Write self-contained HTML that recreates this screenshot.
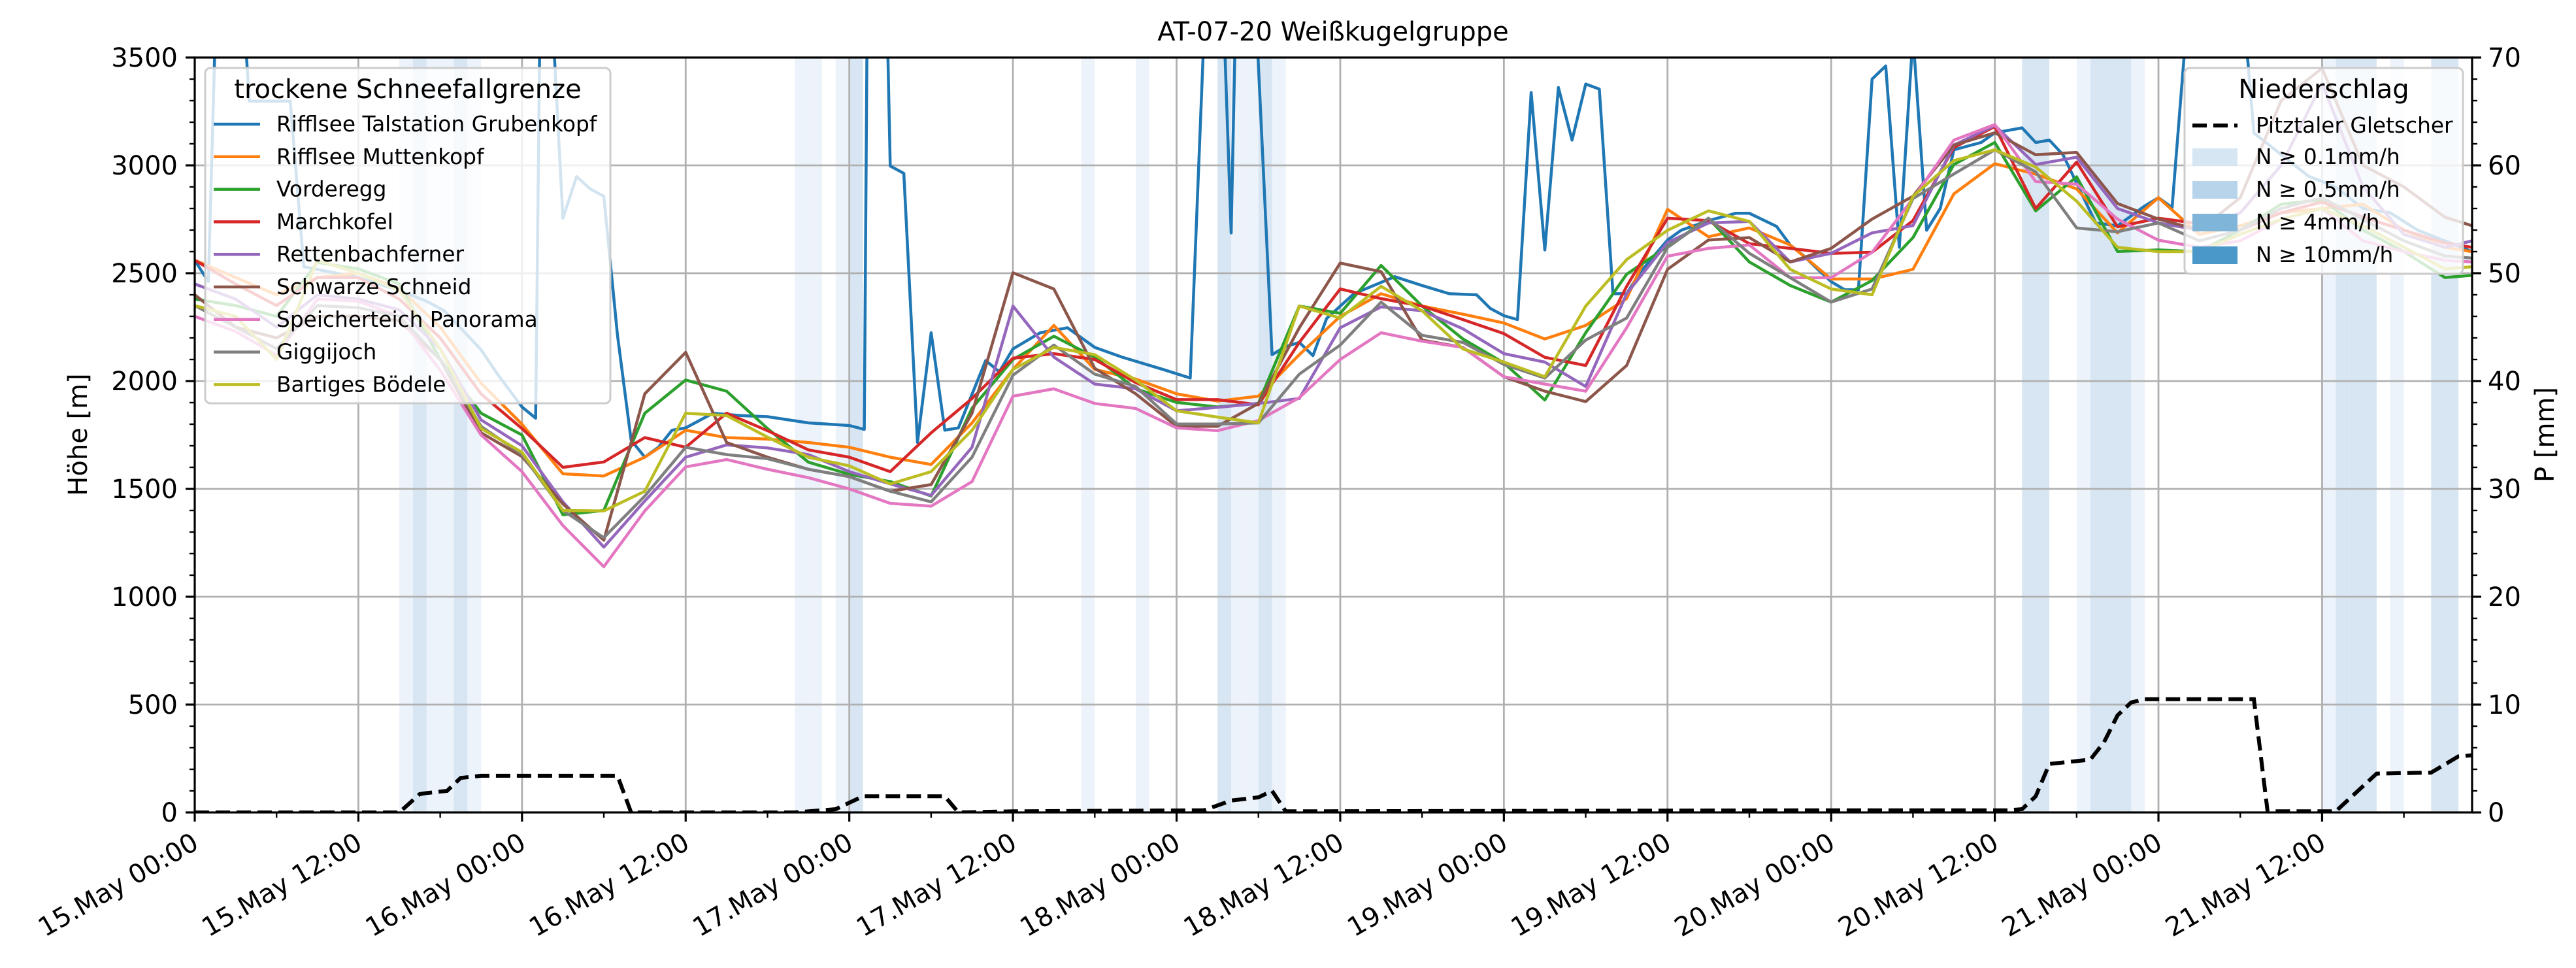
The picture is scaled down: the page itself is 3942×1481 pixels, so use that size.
<!DOCTYPE html>
<html><head><meta charset="utf-8"><title>AT-07-20 Weißkugelgruppe</title>
<style>
html,body{margin:0;padding:0;background:#fff;}
svg{display:block;font-family:"DejaVu Sans","Liberation Sans",sans-serif;}
</style></head>
<body>
<svg id="chart" xmlns="http://www.w3.org/2000/svg" width="3942" height="1481" viewBox="0 0 3942 1481">
<defs><clipPath id="plotclip"><rect x="298" y="88" width="3485" height="1155"/></clipPath></defs>
<rect x="0" y="0" width="3942" height="1481" fill="#fff"/>
<g id="bands" clip-path="url(#plotclip)"></g>
<g id="grid"></g>
<g id="series" clip-path="url(#plotclip)"></g>
<g id="precip" clip-path="url(#plotclip)"></g>
<g id="axes"></g>
<text x="2040" y="62" font-size="40" text-anchor="middle">AT-07-20 Weißkugelgruppe</text>
<text x="0" y="0" font-size="40" text-anchor="middle" transform="translate(133,665) rotate(-90)">Höhe [m]</text>
<text x="0" y="0" font-size="40" text-anchor="middle" transform="translate(3908,665) rotate(-90)">P [mm]</text>
<g id="legend1"></g>
<g id="legend2"></g>
</svg>
<script>
const HOURS = [0,3,6,9,12,15,18,21,24,27,30,33,36,39,42,45,48,51,54,57,60,63,66,69,72,75,78,81,84,87,90,93,96,99,102,105,108,111,114,117,120,123,126,129,132,135,138,141,144,147,150,153,156,159,162,165,167];
const ORANGE = [2560,2480,2400,2480,2500,2430,2250,1990,1800,1570,1560,1647,1772,1738,1731,1715,1693,1647,1613,1806,2054,2258,2054,2009,1941,1907,1930,2122,2300,2405,2348,2310,2269,2195,2258,2382,2796,2669,2710,2631,2473,2473,2518,2868,3008,2959,2891,2687,2850,2680,2720,2780,2800,2820,2700,2620,2600];
const RED = [2560,2450,2350,2480,2480,2380,2200,1940,1780,1600,1625,1738,1693,1851,1770,1681,1647,1580,1760,1919,2106,2127,2100,1993,1914,1914,1890,2179,2427,2382,2348,2285,2220,2110,2072,2439,2755,2744,2637,2615,2592,2597,2744,3083,3180,2800,3015,2715,2755,2730,2700,2780,2830,2760,2700,2640,2620];
const GREEN = [2380,2350,2300,2550,2520,2450,2100,1851,1750,1380,1400,1851,2005,1953,1780,1624,1568,1534,1467,1874,2100,2208,2111,1964,1901,1880,1896,2348,2314,2536,2348,2195,2084,1912,2224,2495,2624,2755,2552,2443,2366,2466,2665,3004,3106,2789,2947,2601,2608,2600,2700,2820,2840,2700,2600,2480,2490];
const PURPLE = [2450,2380,2250,2400,2380,2330,2150,1820,1700,1440,1230,1444,1647,1704,1690,1659,1580,1523,1470,1693,2348,2111,1986,1964,1862,1878,1896,1919,2247,2344,2326,2242,2127,2088,1975,2405,2642,2733,2740,2552,2592,2687,2721,3094,3185,3004,3038,2800,2733,2700,2780,3000,3380,2900,2680,2620,2650];
const BROWN = [2400,2250,2200,2300,2300,2280,2100,1760,1650,1430,1262,1941,2133,1715,1647,1591,1557,1489,1520,1851,2502,2427,2059,1941,1790,1790,1896,2247,2547,2507,2190,2156,2020,1953,1905,2072,2518,2654,2665,2552,2615,2751,2857,3094,3151,3049,3060,2823,2751,2700,2850,3300,3450,3000,2900,2760,2720];
const PINK = [2300,2230,2120,2380,2370,2300,2050,1750,1580,1330,1139,1398,1602,1636,1591,1552,1500,1433,1420,1534,1930,1964,1896,1873,1783,1770,1817,1923,2100,2224,2185,2156,2020,1986,1953,2247,2579,2615,2631,2479,2479,2597,2846,3117,3189,2925,2913,2751,2653,2620,2650,2750,2800,2650,2600,2560,2552];
const GRAY = [2350,2250,2150,2350,2340,2300,2100,1790,1660,1400,1274,1467,1693,1659,1640,1591,1557,1489,1440,1647,2027,2167,2032,1975,1801,1801,1806,2032,2167,2366,2212,2179,2077,2014,2190,2292,2619,2755,2592,2479,2366,2427,2846,2960,3072,2970,2710,2692,2733,2650,2700,2800,2850,2750,2650,2580,2570];
const OLIVE = [2350,2300,2100,2560,2500,2420,2150,1780,1670,1400,1398,1489,1851,1840,1740,1647,1607,1523,1580,1772,2054,2156,2122,2005,1862,1833,1806,2348,2292,2439,2326,2149,2088,2020,2348,2563,2699,2789,2740,2518,2427,2400,2857,3022,3072,2992,2834,2620,2600,2600,2680,2750,2800,2720,2620,2520,2530];
const BLUE_HOURS = [0,1,1.5,3.7,4,7,8,12,15,17,18.3,21,22.2,24,25,25.3,26.3,27,28,29,30,31,32,33,34,35,36,38,40,42,45,48,49.1,49.3,50.8,51,52,53,54,55,56,58,59,60,62,64,66,68,71,73,74,75.5,76,76.3,77.9,79,80,81,82,83,85,88,90,92,94,95,96,97,98,99,100,101,102,103,104,105,106,108,109,111,113,114,116,117,118,119,120,121,122,123,124,125,126,127,128,129,131,132,134,135,136,137,139.4,141,143,144,145,146,150.4,151,153,155,157,159,161,163,165,167];
const BLUE = [2560,2461,3600,3600,3298,3298,2530,2480,2420,2370,2326,2145,2032,1880,1828,3600,3600,2755,2948,2891,2857,2213,1726,1647,1693,1772,1783,1851,1840,1835,1806,1794,1776,3600,3600,2997,2963,1715,2224,1772,1783,2095,2043,2149,2224,2247,2156,2111,2054,2014,3600,3600,2687,3600,3600,2122,2160,2179,2118,2290,2405,2484,2443,2405,2400,2337,2303,2285,3338,2608,3361,3117,3377,3354,2405,2405,2505,2654,2699,2744,2778,2778,2717,2631,2580,2519,2461,2423,2423,3400,3461,2620,3600,2699,2800,3072,3106,3151,3174,3106,3117,3049,2733,2720,2812,2850,2805,3600,3600,3150,3050,2950,2900,2800,2780,2700,2650,2600];
const P_HOURS = [0,15,16.5,17,18.5,19.5,21,31,32,44,47,49,55,56,60,74,76,78,79,80,81,120,133,134,135,136,139,140,141,142,143,151,152,157,160,164,166,167];
const P_VALUES = [0,0,1.7,1.8,2,3.2,3.4,3.4,0,0,0.3,1.5,1.5,0,0.1,0.2,1.1,1.4,2,0.1,0.1,0.2,0.2,0.3,1.5,4.5,4.9,6.5,9,10.2,10.5,10.5,0.1,0.1,3.6,3.7,5.2,5.3];
const BAND_LIGHT = [15,17,18,20,44,45,47,65,69,76,77,79,138,142,156,161];
const BAND_DARK = [16,19,48,75,78,134,135,139,140,141,157,158,159,164,165];
const X_TICKS = [0,12,24,36,48,60,72,84,96,108,120,132,144,156];
const X_LABELS = ["15.May 00:00","15.May 12:00","16.May 00:00","16.May 12:00","17.May 00:00","17.May 12:00","18.May 00:00","18.May 12:00","19.May 00:00","19.May 12:00","20.May 00:00","20.May 12:00","21.May 00:00","21.May 12:00"];
const Y_TICKS = [0,500,1000,1500,2000,2500,3000,3500];
const Y2_TICKS = [0,10,20,30,40,50,60,70];
const STATION_NAMES = ["Rifflsee Talstation Grubenkopf","Rifflsee Muttenkopf","Vorderegg","Marchkofel","Rettenbachferner","Schwarze Schneid","Speicherteich Panorama","Giggijoch","Bartiges Bödele"];

const NS = "http://www.w3.org/2000/svg";
const L = 298, R = 3783, T = 88, B = 1243, HMAX = 167;
function xs(h){ return L + h*(R-L)/HMAX; }
function ys(v){ return B - v*(B-T)/3500; }
function yp(p){ return B - p*(B-T)/70; }
function mk(tag, attrs, parent){ const e = document.createElementNS(NS, tag); for (const k in attrs) e.setAttribute(k, attrs[k]); parent.appendChild(e); return e; }

const gb = document.getElementById('bands');
BAND_LIGHT.forEach(h => {
  const r = mk('rect', {x: xs(h), y: T, width: xs(h+1)-xs(h), height: B-T, fill: '#edf3fa'}, gb);
  
  
});
BAND_DARK.forEach(h => {
  const r = mk('rect', {x: xs(h), y: T, width: xs(h+1)-xs(h), height: B-T, fill: '#d8e6f3'}, gb);
  
  
});

const gg = document.getElementById('grid');
Y_TICKS.forEach(v => {
  const l = mk('line', {x1: L, x2: R, y1: ys(v), y2: ys(v), stroke: '#b0b0b0', 'stroke-width': 2.8}, gg);
  
  
});
X_TICKS.forEach(h => {
  const l = mk('line', {x1: xs(h), x2: xs(h), y1: T, y2: B, stroke: '#b0b0b0', 'stroke-width': 2.8}, gg);
  
  
});

const gs = document.getElementById('series');
const SERIES = [
  [BLUE_HOURS, BLUE, '#1f77b4', 'series-rifflsee-talstation'],
  [HOURS, ORANGE, '#ff7f0e', 'series-rifflsee-muttenkopf'],
  [HOURS, GREEN, '#2ca02c', 'series-vorderegg'],
  [HOURS, RED, '#d62728', 'series-marchkofel'],
  [HOURS, PURPLE, '#9467bd', 'series-rettenbachferner'],
  [HOURS, BROWN, '#8c564b', 'series-schwarze-schneid'],
  [HOURS, PINK, '#e377c2', 'series-speicherteich-panorama'],
  [HOURS, GRAY, '#7f7f7f', 'series-giggijoch'],
  [HOURS, OLIVE, '#bcbd22', 'series-bartiges-boedele']
];
SERIES.forEach(s => {
  const pts = s[0].map((h,i) => xs(h).toFixed(1)+','+ys(s[1][i]).toFixed(1)).join(' ');
  const p = mk('polyline', {points: pts, fill: 'none', stroke: s[2], 'stroke-width': 4.5, 'stroke-linejoin': 'round'}, gs);
  
  
});

const gp = document.getElementById('precip');
const ppts = P_HOURS.map((h,i) => xs(h).toFixed(1)+','+yp(P_VALUES[i]).toFixed(1)).join(' ');
const pl = mk('polyline', {points: ppts, fill: 'none', stroke: '#000', 'stroke-width': 6, 'stroke-dasharray': '22,10'}, gp);



const ga = document.getElementById('axes');
const frame = mk('rect', {x: L, y: T, width: R-L, height: B-T, fill: 'none', stroke: '#000', 'stroke-width': 3.2}, ga);


for (let v = 0; v <= 3500; v += 100) {
  const major = v % 500 === 0;
  const t = mk('line', {x1: L, x2: L - (major ? 14 : 8), y1: ys(v), y2: ys(v), stroke: '#000', 'stroke-width': major ? 3.2 : 2.4}, ga);
  
  
}
Y_TICKS.forEach(v => {
  const t = mk('text', {x: L - 26, y: ys(v) + 14, 'font-size': 40, 'text-anchor': 'end'}, ga);
  t.textContent = String(v);
  
  
});
for (let p = 0; p <= 70; p += 2) {
  const major = p % 10 === 0;
  const t = mk('line', {x1: R, x2: R + (major ? 14 : 8), y1: yp(p), y2: yp(p), stroke: '#000', 'stroke-width': major ? 3.2 : 2.4}, ga);
  
  
}
Y2_TICKS.forEach(p => {
  const t = mk('text', {x: R + 24, y: yp(p) + 14, 'font-size': 40, 'text-anchor': 'start'}, ga);
  t.textContent = String(p);
  
  
});
for (let h = 0; h <= HMAX; h += 6) {
  const major = h % 12 === 0;
  const t = mk('line', {x1: xs(h), x2: xs(h), y1: B, y2: B + (major ? 14 : 8), stroke: '#000', 'stroke-width': major ? 3.2 : 2.4}, ga);
  
  
}
X_TICKS.forEach((h,i) => {
  const tx = xs(h) - 6, ty = 1272;
  const t = mk('text', {x: 0, y: 0, 'font-size': 40, 'text-anchor': 'end', 'dominant-baseline': 'hanging', transform: 'translate('+tx+','+ty+') rotate(-30)'}, ga);
  t.textContent = X_LABELS[i];
  
  
});

const g1 = document.getElementById('legend1');
const f1 = mk('rect', {x: 314, y: 104, width: 620, height: 513, rx: 8, fill: '#fff', 'fill-opacity': 0.8, stroke: '#cccccc', 'stroke-width': 3}, g1);


const lt1 = mk('text', {x: 624, y: 150, 'font-size': 40, 'text-anchor': 'middle'}, g1);
lt1.textContent = 'trockene Schneefallgrenze';


STATION_NAMES.forEach((n,i) => {
  const y = 190 + i*49.8;
  const ln = mk('line', {x1: 327, x2: 398, y1: y, y2: y, stroke: SERIES[i][2], 'stroke-width': 4.5}, g1);
  
  
  const tx = mk('text', {x: 423, y: y + 11, 'font-size': 32.8}, g1);
  tx.textContent = n;
  
  
});

const g2 = document.getElementById('legend2');
const f2 = mk('rect', {x: 3343, y: 104, width: 426, height: 315, rx: 8, fill: '#fff', 'fill-opacity': 0.8, stroke: '#cccccc', 'stroke-width': 3}, g2);


const lt2 = mk('text', {x: 3556, y: 150, 'font-size': 40, 'text-anchor': 'middle'}, g2);
lt2.textContent = 'Niederschlag';


const dl = mk('line', {x1: 3355, x2: 3424, y1: 192, y2: 192, stroke: '#000', 'stroke-width': 6, 'stroke-dasharray': '22,10'}, g2);


const dt = mk('text', {x: 3452, y: 203, 'font-size': 32.8}, g2);
dt.textContent = 'Pitztaler Gletscher';


const PLEG = [['N ≥ 0.1mm/h','#d6e6f3'],['N ≥ 0.5mm/h','#b7d4ea'],['N ≥ 4mm/h','#7fb5d8'],['N ≥ 10mm/h','#4a98c9']];
PLEG.forEach((e,i) => {
  const y = 240 + i*50;
  const r = mk('rect', {x: 3355, y: y - 13, width: 69, height: 27, fill: e[1]}, g2);
  
  
  const t = mk('text', {x: 3452, y: y + 11, 'font-size': 32.8}, g2);
  t.textContent = e[0];
  
  
});
</script>
</body></html>
